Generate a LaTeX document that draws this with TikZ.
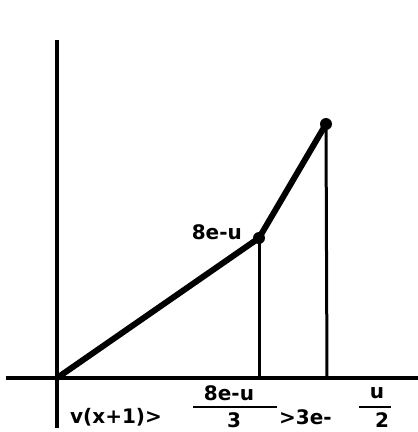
\documentclass[tikz,border=0pt]{standalone}
\usepackage{fontspec}
\setmainfont{DejaVu Sans}
\begin{document}
\begin{tikzpicture}[x=1pt,y=-1pt,
  axis/.style={line width=3.4pt},
  curve/.style={line width=6pt,line cap=round},
  drop/.style={line width=3pt},
  dot/.style={circle,fill=black,inner sep=0pt,minimum size=12pt},
  lbl/.style={font=\bfseries\fontsize{20}{22}\selectfont,inner sep=0pt}]
\useasboundingbox (0,0) rectangle (418,432);
\coordinate (ytop) at (57,40);
\coordinate (ybot) at (57,428);
\coordinate (xl) at (6,378);
\coordinate (xr) at (418,378);
\coordinate (O) at (57,378);
\node[dot] (A) at (259,238) {};
\node[dot] (B) at (326,124) {};
\coordinate (Ab) at (259,378);
\coordinate (Bb) at (327,378);
\draw[axis] (ytop) -- (ybot);
\draw[axis] (xl) -- (xr);
\draw[drop] (A.center) -- (Ab);
\draw[drop] (B.center) -- (Bb);
\draw[curve] (O) -- (A.center) -- (B.center);
\node[lbl,anchor=east] (la) at (242,232) {8e-u};
\node[lbl,anchor=west] (l1) at (70,417) {v(x+1)>};
\node[lbl] (n1) at (229,393) {8e-u};
\draw[line width=2.6pt] (193,407) -- (277,407);
\node[lbl] (d1) at (234,420) {3};
\node[lbl,anchor=west] (l2) at (279,417) {>3e-};
\node[lbl] (n2) at (377,393) {u};
\draw[line width=2.6pt] (359,407) -- (391,407);
\node[lbl] (d2) at (382,420) {2};
\end{tikzpicture}
\end{document}
